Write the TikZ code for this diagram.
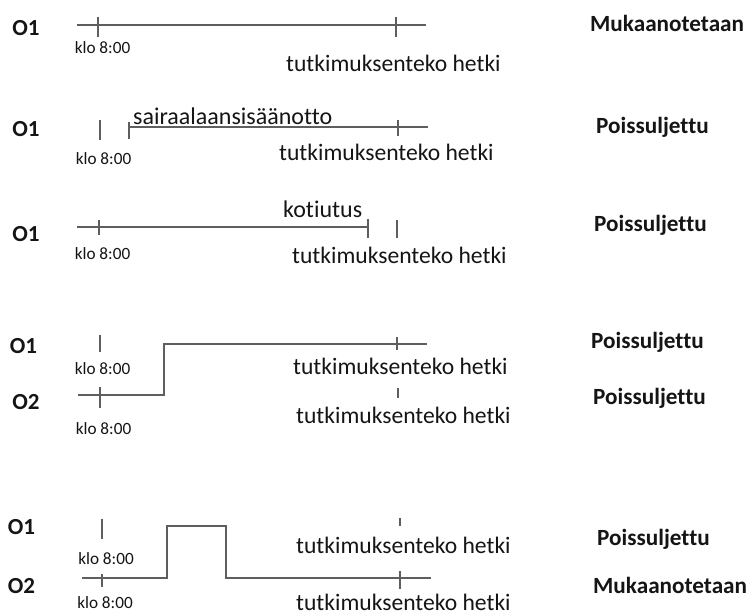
\documentclass[tikz,border=0pt]{standalone}
\usepackage{fontspec}
\setmainfont{Carlito}[Ligatures={NoCommon}]
\definecolor{ln}{HTML}{5E5E5E}
\definecolor{tx}{HTML}{151515}
\begin{document}
\begin{tikzpicture}[x=1pt,y=-1pt,
  tl/.style={draw=ln,line width=1.7pt},
  tk/.style={draw=ln,line width=1.7pt},
  olab/.style={font=\fontsize{23}{23}\selectfont\bfseries,text=tx,inner sep=0pt},
  rlab/.style={font=\fontsize{23.2}{23.2}\selectfont\bfseries,text=tx,inner sep=0pt,anchor=base west},
  klo/.style={font=\fontsize{17.2}{17.2}\selectfont,text=tx,inner sep=0pt},
  hk/.style={font=\fontsize{23.6}{23.6}\selectfont,text=tx,inner sep=0pt,anchor=west},
  ev/.style={font=\fontsize{24}{24}\selectfont,text=tx,inner sep=0pt,anchor=west}]
\useasboundingbox (0,0) rectangle (748,615);
\fill[white] (0,0) rectangle (748,615);

% ---------- Row 1
\node[olab] (o1a) at (26,28.5) {O1};
\draw[tl] (77,25) -- (426,25);
\draw[tk] (98,17) -- (98,37);
\draw[tk] (396,17) -- (396,37);
\node[klo] (k1) at (102.5,47.5) {klo 8:00};
\node[hk] (h1) at (286,63) {tutkimuksenteko hetki};
\node[rlab] (r1) at (590,32) {Mukaanotetaan};

% ---------- Row 2
\node[olab] (o1b) at (26,129) {O1};
\draw[tk] (100,120) -- (100,140);
\draw[tk] (129,122) -- (129,139);
\draw[tl] (129,127) -- (428,127);
\draw[tk] (398,120) -- (398,136);
\node[ev] (s2) at (133,116.5) {sairaalaansisäänotto};
\node[klo] (k2) at (103.5,159) {klo 8:00};
\node[hk] (h2) at (279,152) {tutkimuksenteko hetki};
\node[rlab] (r2) at (596,133.5) {Poissuljettu};

% ---------- Row 3
\node[olab] (o1c) at (26,234) {O1};
\draw[tl] (77,227) -- (368,227);
\draw[tk] (99,220) -- (99,235);
\draw[tk] (368,219) -- (368,238);
\draw[tk] (397,220) -- (397,238);
\node[ev] (s3) at (283,209) {kotiutus};
\node[klo] (k3) at (102.5,254) {klo 8:00};
\node[hk] (h3) at (292,255) {tutkimuksenteko hetki};
\node[rlab] (r3) at (594,231.5) {Poissuljettu};

% ---------- Row 4
\node[olab] (o1d) at (23.5,346) {O1};
\node[olab] (o2d) at (26,402.5) {O2};
\draw[tk] (100,335) -- (100,352);
\draw[tl] (78,395) -- (164,395) -- (164,344) -- (427,344);
\draw[tk] (397,337) -- (397,350);
\draw[tk] (100,387) -- (100,408);
\draw[tk] (398,388) -- (398,398);
\node[klo] (k4a) at (102.5,369) {klo 8:00};
\node[klo] (k4b) at (103.5,429) {klo 8:00};
\node[hk] (h4a) at (293,366.5) {tutkimuksenteko hetki};
\node[hk] (h4b) at (296,415) {tutkimuksenteko hetki};
\node[rlab] (r4a) at (591,348) {Poissuljettu};
\node[rlab] (r4b) at (593,404) {Poissuljettu};

% ---------- Row 5
\node[olab] (o1e) at (21.5,527.5) {O1};
\node[olab] (o2e) at (21.5,586) {O2};
\draw[tk] (102,519) -- (102,539);
\draw[tl] (82,578) -- (167,578) -- (167,526) -- (226,526) -- (226,578) -- (431,578);
\draw[tk] (102,574) -- (102,587);
\draw[tk] (400,571) -- (400,589);
\draw[tk] (400,518) -- (400,526);
\node[klo] (k5a) at (106,558.5) {klo 8:00};
\node[klo] (k5b) at (105,602.5) {klo 8:00};
\node[hk] (h5a) at (296,545) {tutkimuksenteko hetki};
\node[hk] (h5b) at (296,602) {tutkimuksenteko hetki};
\node[rlab] (r5a) at (597,545) {Poissuljettu};
\node[rlab] (r5b) at (593,593) {Mukaanotetaan};
\end{tikzpicture}
\end{document}
